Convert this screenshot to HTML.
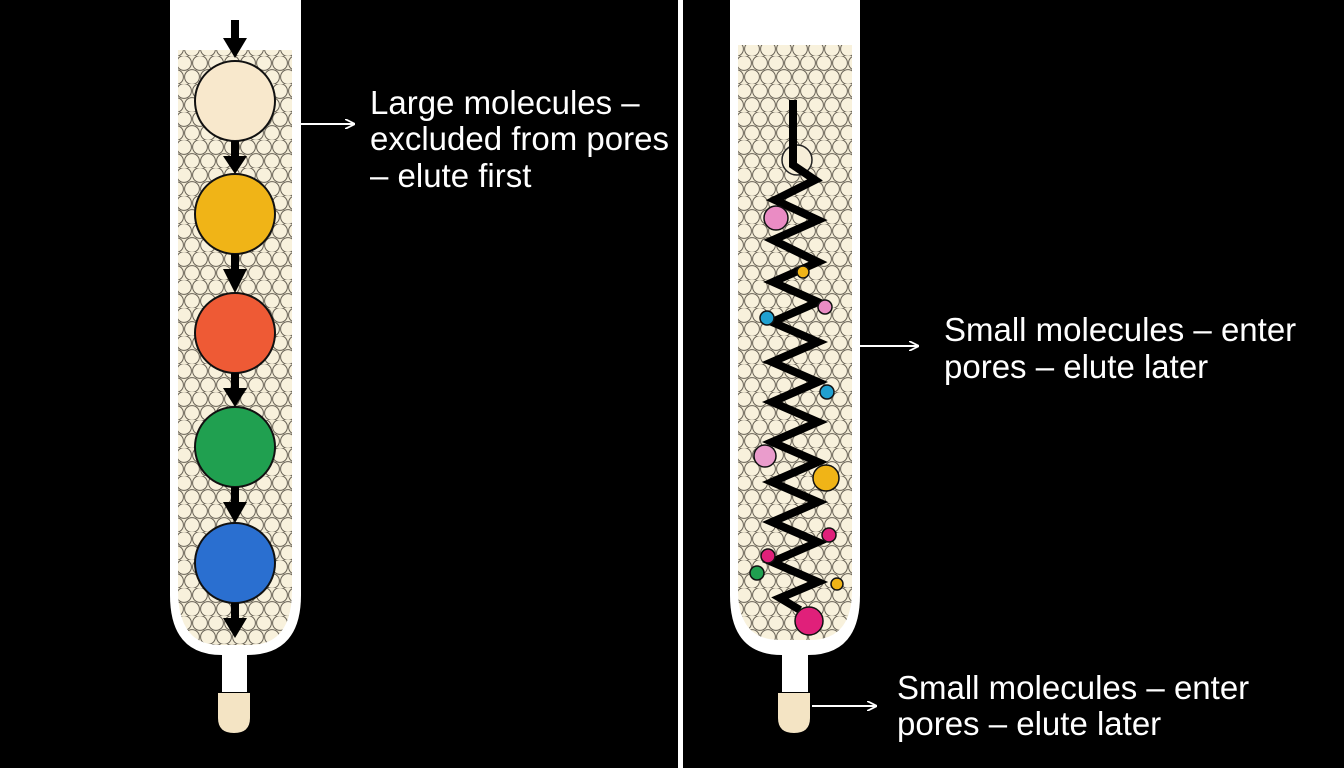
<!DOCTYPE html>
<html><head><meta charset="utf-8"><style>
html,body{margin:0;padding:0;background:#000;}
svg{display:block}
text{font-family:"Liberation Sans",sans-serif;fill:#fff;font-size:33px}
</style></head><body>
<svg width="1344" height="768" viewBox="0 0 1344 768" xmlns="http://www.w3.org/2000/svg">
<defs>
<pattern id="beads" x="0" y="0" width="16" height="28" patternUnits="userSpaceOnUse">
<rect width="16" height="28" fill="#f3ecd6"/>
<circle cx="8" cy="7" r="7.4" fill="#f8f1dc" stroke="#6a6458" stroke-width="1"/>
<circle cx="0" cy="21" r="7.4" fill="#f8f1dc" stroke="#6a6458" stroke-width="1"/>
<circle cx="16" cy="21" r="7.4" fill="#f8f1dc" stroke="#6a6458" stroke-width="1"/>
</pattern>
<marker id="ah" markerWidth="10" markerHeight="10" refX="9" refY="5" orient="auto" markerUnits="userSpaceOnUse">
<path d="M0,0 L10,5 L0,10" fill="none" stroke="#fff" stroke-width="1.8"/>
</marker>
</defs>
<rect width="1344" height="768" fill="#000"/>
<rect x="678" y="0" width="5" height="768" fill="#fff"/>

<!-- left column -->
<path d="M170,0 H301 V595 Q301,655 247,655 H222 Q170,655 170,595 Z" fill="#fff"/>
<rect x="222" y="650" width="25" height="42" fill="#fff"/>
<path d="M218,693 H250 V718 Q250,733 234,733 Q218,733 218,718 Z" fill="#f4e4c4"/>
<path d="M178,50 H292 V590 Q292,645 250,645 H220 Q178,645 178,590 Z" fill="url(#beads)"/>
<g stroke="#111" stroke-width="2">
<circle cx="235" cy="101" r="40" fill="#f8e8cc"/>
<circle cx="235" cy="214" r="40" fill="#f0b417"/>
<circle cx="235" cy="333" r="40" fill="#ee5a35"/>
<circle cx="235" cy="447" r="40" fill="#20a050"/>
<circle cx="235" cy="563" r="40" fill="#2a6fd0"/>
</g>
<g fill="#000">
<rect x="231" y="20" width="8" height="20"/><path d="M223,38 H247 L235,58 Z"/>
<rect x="231" y="141" width="8" height="18"/><path d="M223,156 H247 L235,174 Z"/>
<rect x="231" y="254" width="8" height="18"/><path d="M223,269 H247 L235,293 Z"/>
<rect x="231" y="373" width="8" height="18"/><path d="M223,388 H247 L235,407 Z"/>
<rect x="231" y="487" width="8" height="18"/><path d="M223,502 H247 L235,523 Z"/>
<rect x="231" y="603" width="8" height="18"/><path d="M223,618 H247 L235,638 Z"/>
</g>
<line x1="301" y1="124" x2="354" y2="124" stroke="#fff" stroke-width="2" marker-end="url(#ah)"/>
<text x="370" y="114">Large molecules –</text>
<text x="370" y="150">excluded from pores</text>
<text x="370" y="187">– elute first</text>

<!-- right column -->
<path d="M730,0 H860 V595 Q860,655 808,655 H782 Q730,655 730,595 Z" fill="#fff"/>
<rect x="782" y="650" width="26" height="42" fill="#fff"/>
<path d="M778,693 H810 V718 Q810,733 794,733 Q778,733 778,718 Z" fill="#f4e4c4"/>
<path d="M738,45 H852 V590 Q852,640 810,640 H780 Q738,640 738,590 Z" fill="url(#beads)"/>
<circle cx="797" cy="160" r="15" fill="#f6eed8" stroke="#222" stroke-width="1.5"/>
<polyline points="793,100 793,165 815,180 775,200 818,220 773,240 818,262 773,282 818,302 772,322 818,342 772,362 818,382 772,402 818,422 772,442 818,462 772,482 818,502 772,522 818,542 772,562 818,582 780,598 800,610" fill="none" stroke="#000" stroke-width="8" stroke-linejoin="miter"/>
<g stroke="#111" stroke-width="1.5">
<circle cx="776" cy="218" r="12" fill="#ea8cc4"/>
<circle cx="803" cy="272" r="6" fill="#f0b417"/>
<circle cx="825" cy="307" r="7" fill="#ea8cc4"/>
<circle cx="767" cy="318" r="7" fill="#20a0d0"/>
<circle cx="827" cy="392" r="7" fill="#20a0d0"/>
<circle cx="765" cy="456" r="11" fill="#ea9ccc"/>
<circle cx="826" cy="478" r="13" fill="#f0b417"/>
<circle cx="829" cy="535" r="7" fill="#e0207a"/>
<circle cx="768" cy="556" r="7" fill="#e0207a"/>
<circle cx="757" cy="573" r="7" fill="#20a050"/>
<circle cx="837" cy="584" r="6" fill="#f0b417"/>
<circle cx="809" cy="621" r="14" fill="#e0207a"/>
</g>
<line x1="860" y1="346" x2="918" y2="346" stroke="#fff" stroke-width="2" marker-end="url(#ah)"/>
<text x="944" y="341">Small molecules – enter</text>
<text x="944" y="378">pores – elute later</text>
<line x1="812" y1="706" x2="876" y2="706" stroke="#fff" stroke-width="2" marker-end="url(#ah)"/>
<text x="897" y="699">Small molecules – enter</text>
<text x="897" y="735">pores – elute later</text>
</svg>
</body></html>
